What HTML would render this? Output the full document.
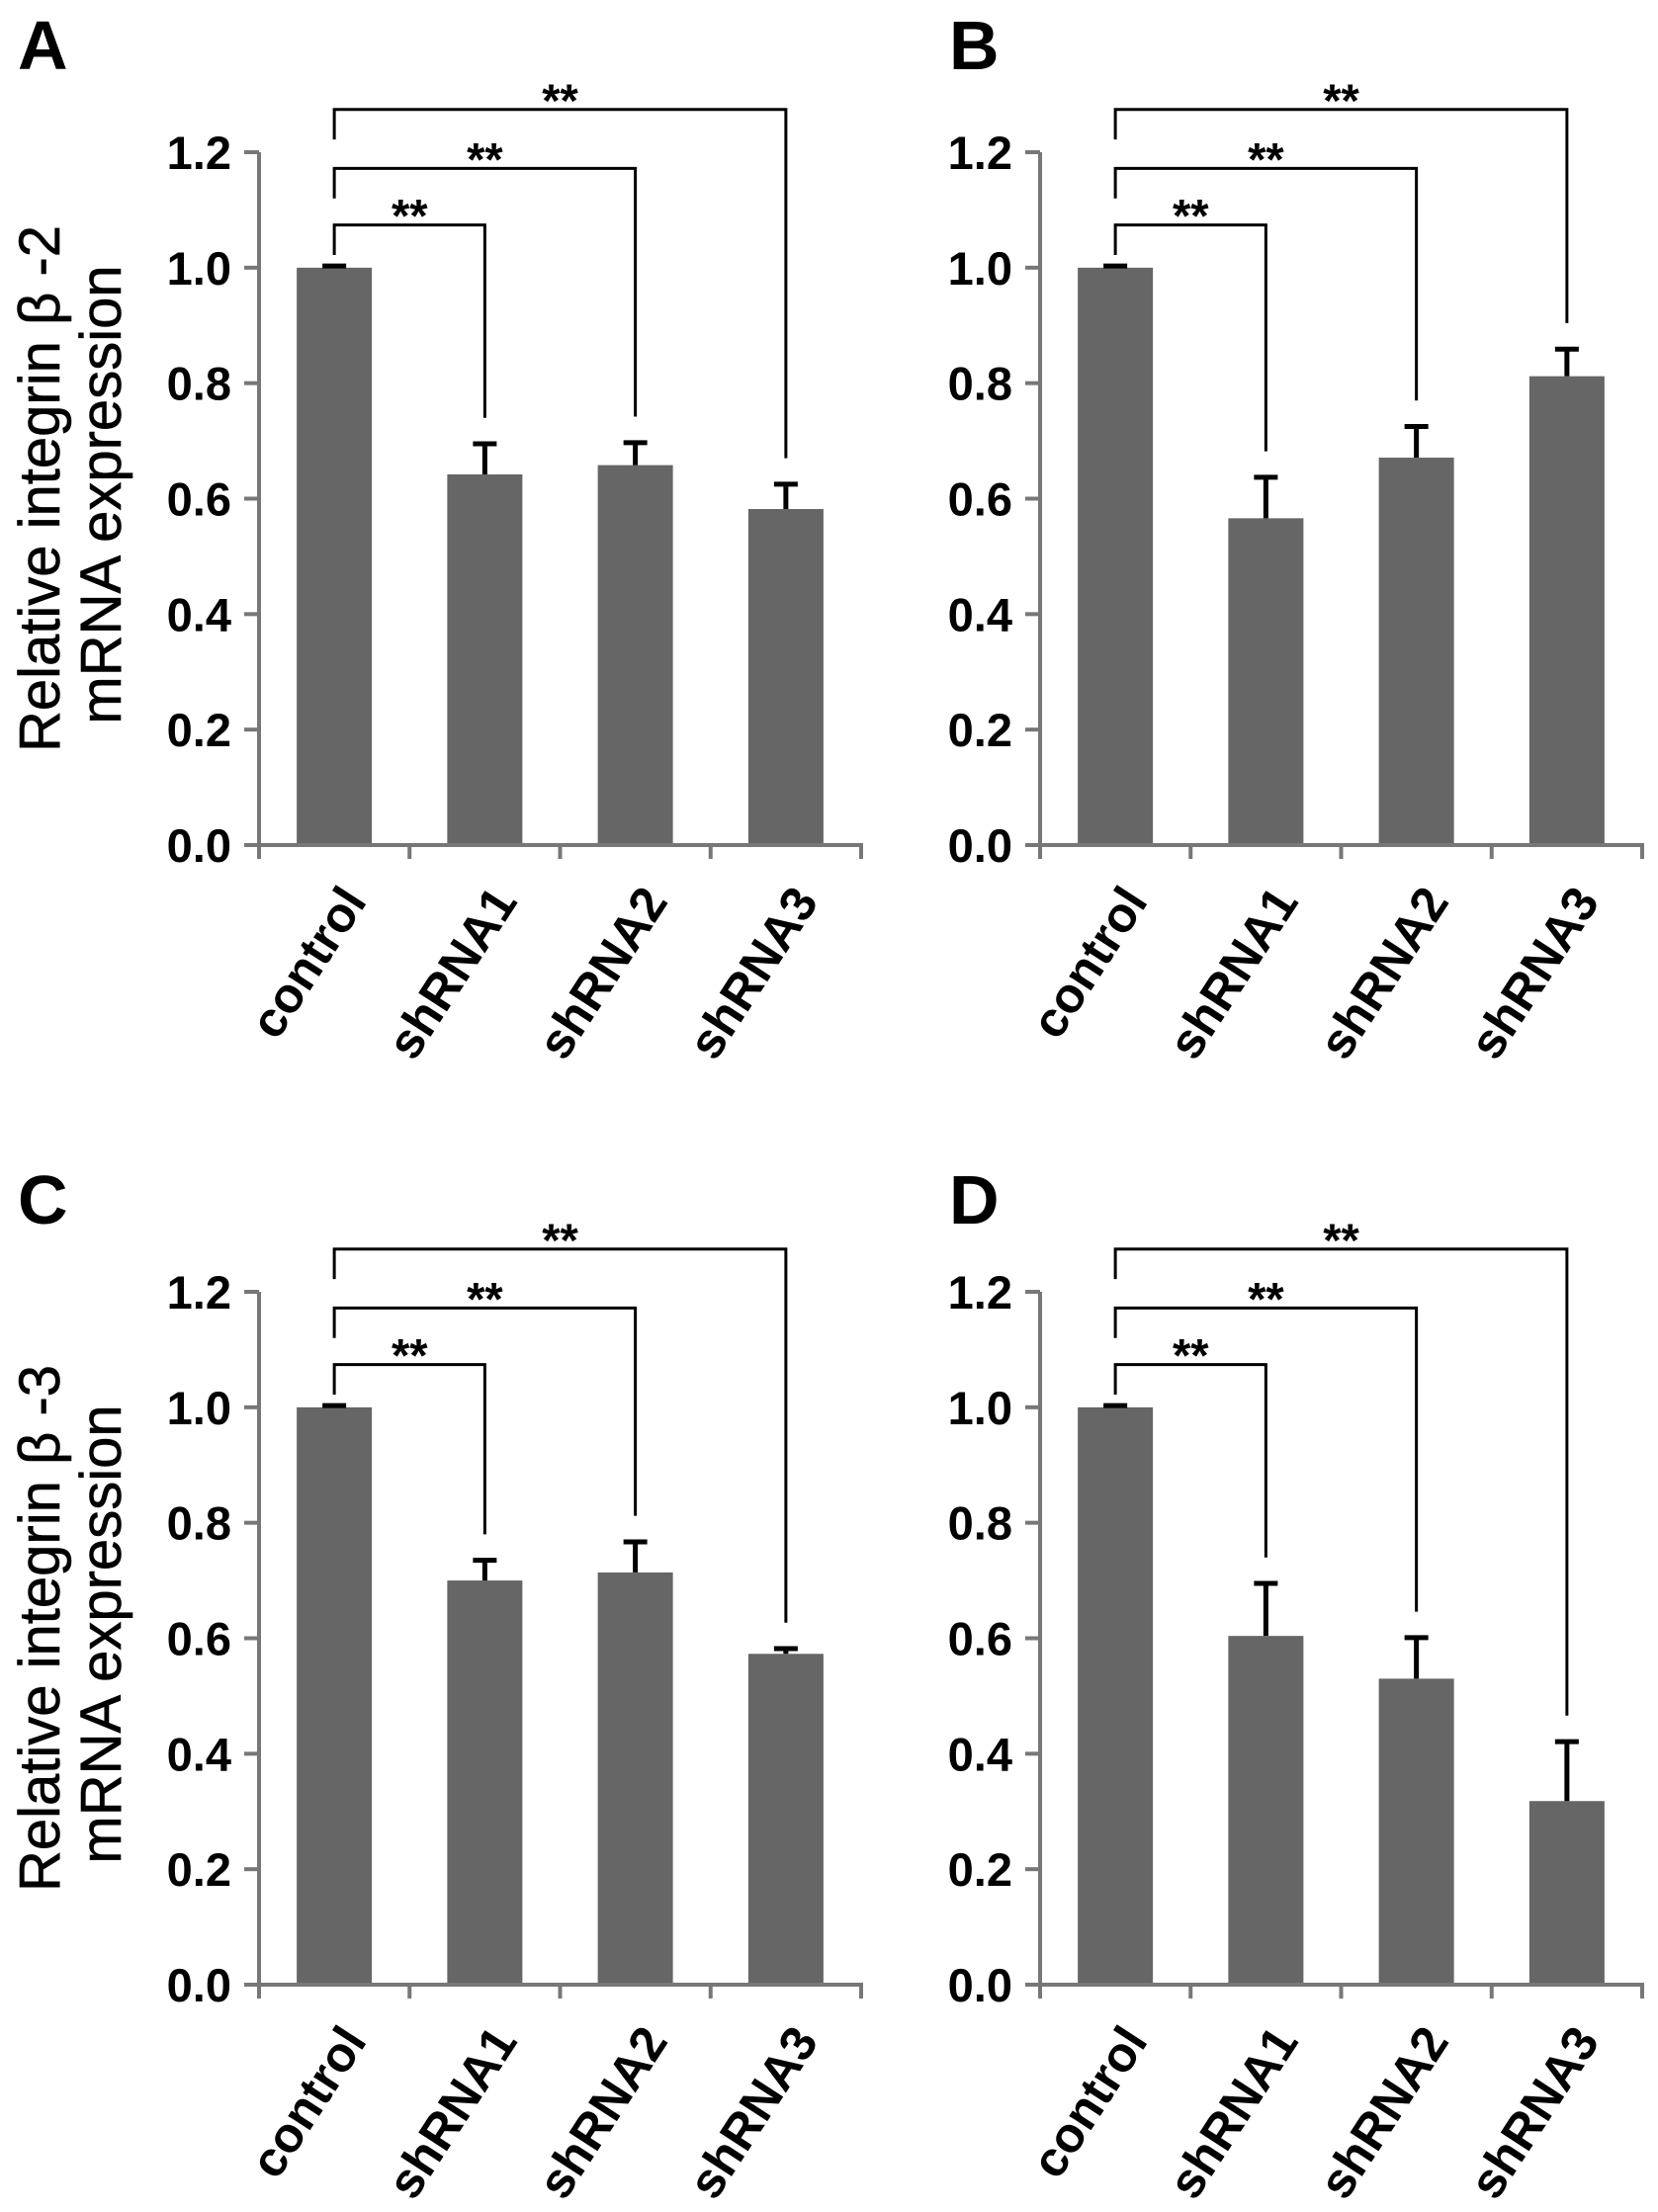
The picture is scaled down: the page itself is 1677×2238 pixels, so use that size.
<!DOCTYPE html>
<html><head><meta charset="utf-8">
<style>
html,body{margin:0;padding:0;background:#fff;}
svg{display:block;}
text{font-family:"Liberation Sans",Arial,sans-serif;}
</style></head>
<body>
<svg id="fig" width="1677" height="2238" viewBox="0 0 1677 2238" xmlns="http://www.w3.org/2000/svg"></svg>
<script>
const categories = ["control","shRNA1","shRNA2","shRNA3"];
const yTicks = [0.0,0.2,0.4,0.6,0.8,1.0,1.2];
const yTickLabels = ["0.0","0.2","0.4","0.6","0.8","1.0","1.2"];
const valuesA = [1.0,0.642,0.658,0.582];
const errorsA = [0.003,0.053,0.039,0.043];
const valuesB = [1.0,0.566,0.671,0.812];
const errorsB = [0.003,0.071,0.054,0.047];
const valuesC = [1.0,0.700,0.714,0.573];
const errorsC = [0.003,0.035,0.053,0.009];
const valuesD = [1.0,0.604,0.530,0.318];
const errorsD = [0.003,0.091,0.071,0.103];
const bracketLevels = [1.074,1.172,1.274];
const sigLabel = "**";

const NS="http://www.w3.org/2000/svg";
const svg=document.getElementById('fig');
function el(tag,attrs,parent){const e=document.createElementNS(NS,tag);for(const k in attrs)e.setAttribute(k,attrs[k]);(parent||svg).appendChild(e);return e;}

const panels=[
 {letter:"A",lx:18,ly:70,ax:262,y0:855,vals:valuesA,errs:errorsA,title:"Relative integrin  β -2"},
 {letter:"B",lx:960,ly:70,ax:1052,y0:855,vals:valuesB,errs:errorsB,title:null},
 {letter:"C",lx:18,ly:1238,ax:262,y0:2008,vals:valuesC,errs:errorsC,title:"Relative integrin  β -3"},
 {letter:"D",lx:960,ly:1238,ax:1052,y0:2008,vals:valuesD,errs:errorsD,title:null}
];
const PX_PER_UNIT=(855-154)/1.2;
const CAT_W=152.25, BAR_W=76;

panels.forEach(p=>{
  const g=el('g',{});
  
  
  const yS=v=>p.y0-v*PX_PER_UNIT;
  const xC=i=>p.ax+CAT_W*(i+0.5);
  const xEnd=p.ax+CAT_W*categories.length;

  const L=el('text',{x:p.lx,y:p.ly,'font-size':70,'font-weight':'bold',fill:'#000'},g);
  L.textContent=p.letter;
  
  

  if(p.title){
    const cy=(yS(0)+yS(1.2))/2;
    const t1=el('text',{x:0,y:0,'font-size':58,'text-anchor':'middle',fill:'#000',stroke:'#000','stroke-width':0.6,transform:`translate(60,${cy-10}) rotate(-90)`},g);
    t1.textContent=p.title;
    
    
    const t2=el('text',{x:0,y:0,'font-size':58,'text-anchor':'middle',fill:'#000',stroke:'#000','stroke-width':0.6,transform:`translate(122,${cy-4}) rotate(-90)`},g);
    t2.textContent="mRNA expression";
    
    
  }

  p.vals.forEach((v,i)=>{
    const r=el('rect',{x:xC(i)-BAR_W/2,y:yS(v),width:BAR_W,height:yS(0)-yS(v),fill:'#666'},g);
    
    
    const top=yS(v+p.errs[i]);
    const e=el('path',{d:`M${xC(i)},${yS(v)} L${xC(i)},${top} M${xC(i)-12},${top} L${xC(i)+12},${top}`,stroke:'#000','stroke-width':5,fill:'none'},g);
    
    
  });

  const ya=el('path',{d:`M${p.ax},${yS(1.2)} L${p.ax},${yS(0)+14}`,stroke:'#777','stroke-width':4,fill:'none'},g);
  
  
  const xa=el('path',{d:`M${p.ax-15},${yS(0)} L${xEnd},${yS(0)} L${xEnd},${yS(0)+14}`,stroke:'#777','stroke-width':4,fill:'none'},g);
  
  
  yTicks.forEach((t,i)=>{
    const tk=el('line',{x1:p.ax-15,x2:p.ax,y1:yS(t),y2:yS(t),stroke:'#777','stroke-width':4},g);
    
    
    const tl=el('text',{x:p.ax-28,y:yS(t)+17,'font-size':47,'font-weight':'bold','text-anchor':'end',fill:'#000'},g);
    tl.textContent=yTickLabels[i];
    
    
  });
  for(let i=1;i<categories.length;i++){
    const tk=el('line',{x1:p.ax+CAT_W*i,x2:p.ax+CAT_W*i,y1:yS(0),y2:yS(0)+14,stroke:'#777','stroke-width':4},g);
    
    
  }
  categories.forEach((c,i)=>{
    const tl=el('text',{x:0,y:0,'font-size':50,'font-weight':'bold','text-anchor':'end',fill:'#000',transform:`translate(${xC(i)+34},${yS(0)+57}) rotate(-57)`},g);
    tl.textContent=c;
    
    
  });

  for(let k=1;k<categories.length;k++){
    const lvl=bracketLevels[k-1];
    const yl=yS(lvl), x0=xC(0), x1=xC(k);
    const legBottom=yS(p.vals[k]+p.errs[k]+0.045);
    const leftBottom=yS(lvl-0.052);
    const b=el('path',{d:`M${x0},${leftBottom} L${x0},${yl} L${x1},${yl} L${x1},${legBottom}`,stroke:'#000','stroke-width':3,fill:'none'},g);
    
    
    const s=el('text',{x:(x0+x1)/2,y:yl+7,'font-size':47,'font-weight':'bold','text-anchor':'middle',fill:'#000'},g);
    s.textContent=sigLabel;
    
    
  }
});
</script>
</body></html>
